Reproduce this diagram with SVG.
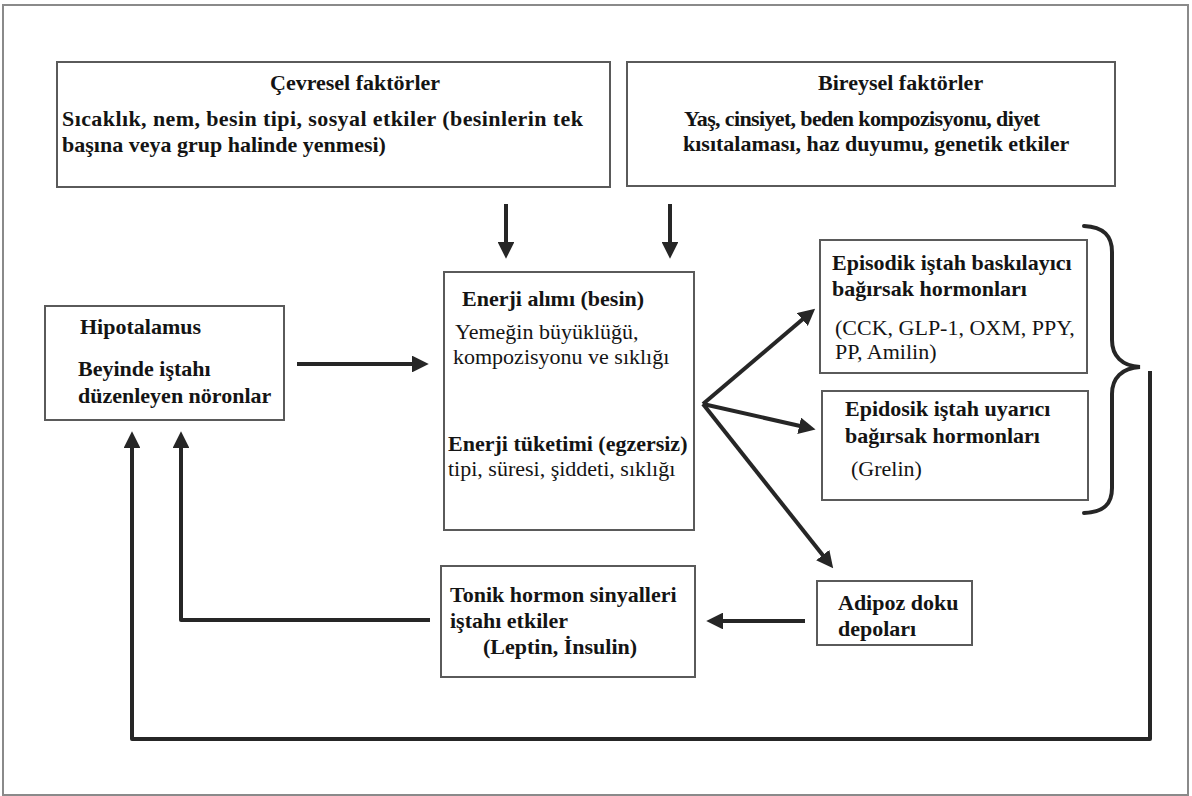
<svg xmlns="http://www.w3.org/2000/svg" width="1192" height="796" viewBox="0 0 1192 796">
  <defs>
    <style>
      .box { fill: #ffffff; stroke: #5a5a5a; stroke-width: 2; }
      .frame { fill: #ffffff; stroke: #8a8a8a; stroke-width: 2; }
      .b { font-family: "Liberation Serif", "Times New Roman", serif; font-weight: bold; font-size: 22px; fill: #141414; }
      .r { font-family: "Liberation Serif", "Times New Roman", serif; font-size: 22px; fill: #141414; }
      .ln { fill: none; stroke: #262626; stroke-width: 4; stroke-linejoin: round; }
      .brace { fill: none; stroke: #262626; stroke-width: 4; stroke-linecap: round; }
    </style>
    <marker id="ah" viewBox="0 0 10 10" refX="6" refY="5" markerWidth="4.2" markerHeight="4.2" orient="auto" markerUnits="strokeWidth">
      <path d="M0,0 L10,5 L0,10 Z" fill="#262626"/>
    </marker>
  </defs>

  <rect class="frame" x="3" y="5" width="1185" height="790"/>

  <g id="cevresel">
    <rect class="box" x="57" y="62" width="553" height="125"/>
    <text class="b" x="270" y="90">Çevresel faktörler</text>
    <text class="b" x="62" y="126" textLength="521">Sıcaklık, nem, besin tipi, sosyal etkiler (besinlerin tek</text>
    <text class="b" x="62" y="152">başına veya grup halinde yenmesi)</text>
  </g>

  <g id="bireysel">
    <rect class="box" x="627" y="62" width="488" height="124"/>
    <text class="b" x="818" y="90">Bireysel faktörler</text>
    <text class="b" x="684" y="126" textLength="356">Yaş, cinsiyet, beden kompozisyonu, diyet</text>
    <text class="b" x="683" y="151">kısıtalaması, haz duyumu, genetik etkiler</text>
  </g>

  <g id="hipotalamus">
    <rect class="box" x="45" y="306" width="239" height="114"/>
    <text class="b" x="80" y="334">Hipotalamus</text>
    <text class="b" x="78" y="376">Beyinde iştahı</text>
    <text class="b" x="78" y="403">düzenleyen nöronlar</text>
  </g>

  <g id="enerji">
    <rect class="box" x="444" y="272" width="250" height="258"/>
    <text class="b" x="462" y="306">Enerji alımı (besin)</text>
    <text class="r" x="455" y="339">Yemeğin büyüklüğü,</text>
    <text class="r" x="453" y="364">kompozisyonu ve sıklığı</text>
    <text class="b" x="448" y="451">Enerji tüketimi (egzersiz)</text>
    <text class="r" x="448" y="476">tipi, süresi, şiddeti, sıklığı</text>
  </g>

  <g id="baskilayici">
    <rect class="box" x="820" y="240" width="267" height="133"/>
    <text class="b" x="832" y="270">Episodik iştah baskılayıcı</text>
    <text class="b" x="832" y="296">bağırsak hormonları</text>
    <text class="r" x="835" y="335">(CCK, GLP-1, OXM, PPY,</text>
    <text class="r" x="835" y="359">PP, Amilin)</text>
  </g>

  <g id="uyarici">
    <rect class="box" x="822" y="391" width="266" height="109"/>
    <text class="b" x="845" y="416">Epidosik iştah uyarıcı</text>
    <text class="b" x="845" y="443">bağırsak hormonları</text>
    <text class="r" x="851" y="476">(Grelin)</text>
  </g>

  <g id="tonik">
    <rect class="box" x="441" y="566" width="254" height="111"/>
    <text class="b" x="450" y="602">Tonik hormon sinyalleri</text>
    <text class="b" x="450" y="628">iştahı etkiler</text>
    <text class="b" x="483" y="654">(Leptin, İnsulin)</text>
  </g>

  <g id="adipoz">
    <rect class="box" x="817" y="581" width="155" height="64"/>
    <text class="b" x="838" y="610">Adipoz doku</text>
    <text class="b" x="838" y="636">depoları</text>
  </g>

  <g id="connectors">
    <!-- factors into energy balance -->
    <line class="ln" x1="506" y1="204" x2="506" y2="252" marker-end="url(#ah)"/>
    <line class="ln" x1="670" y1="204" x2="670" y2="252" marker-end="url(#ah)"/>
    <!-- hypothalamus to energy balance -->
    <line class="ln" x1="297" y1="364" x2="422" y2="364" marker-end="url(#ah)"/>
    <!-- fan out to gut hormones and adipose tissue -->
    <line class="ln" x1="703" y1="404" x2="810" y2="313" marker-end="url(#ah)"/>
    <line class="ln" x1="703" y1="404" x2="809" y2="428" marker-end="url(#ah)"/>
    <line class="ln" x1="703" y1="404" x2="829" y2="563" marker-end="url(#ah)"/>
    <!-- adipose to tonic signals -->
    <line class="ln" x1="805" y1="621" x2="713" y2="621" marker-end="url(#ah)"/>
    <!-- tonic signals back to hypothalamus -->
    <polyline class="ln" points="430,620 181,620 181,438" marker-end="url(#ah)"/>
    <!-- gut hormone feedback loop -->
    <polyline class="ln" points="1150,371 1150,739 132,739 132,438" marker-end="url(#ah)"/>
    <!-- brace grouping the gut hormones -->
    <path class="brace" d="M1084,226 C1104,227 1112,236 1112,252 L1112,340 C1112,356 1122,366 1140,367 C1122,368 1112,378 1112,394 L1112,488 C1112,504 1104,512 1084,513"/>
  </g>
</svg>
